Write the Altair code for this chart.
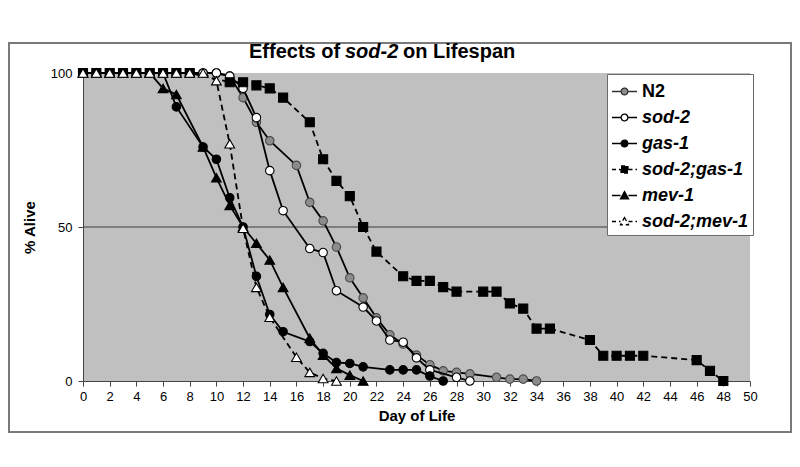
import altair as alt
import pandas as pd

# ---------------- data ----------------
series_names = ["N2", "sod-2", "gas-1", "sod-2;gas-1", "mev-1", "sod-2;mev-1"]

n2_days = [0, 1, 2, 3, 4, 5, 6, 7, 8, 9, 10, 11, 12, 13, 14, 16, 17, 18, 19, 20,
           21, 22, 23, 24, 25, 26, 27, 28, 29, 31, 32, 33, 34]
n2_alive = [100, 100, 100, 100, 100, 100, 100, 100, 100, 100, 100, 99, 92, 84, 78,
            70, 58, 52, 43.5, 33.5, 27, 20.5, 15, 12, 8.4, 5.3, 3.3, 2.8, 2.3,
            1.2, 0.6, 0.6, 0]

sod2_days = [0, 1, 2, 3, 4, 5, 6, 7, 8, 9, 10, 11, 12, 13, 14, 15, 17, 18, 19, 21,
             22, 23, 24, 25, 26, 28, 29]
sod2_alive = [100, 100, 100, 100, 100, 100, 100, 100, 100, 100, 100, 99, 95, 85.5,
              68.3, 55.3, 43, 41.7, 29.3, 24, 19.5, 13.3, 12.6, 7.5, 3.6, 1.2, 0]

gas1_days = [0, 1, 2, 3, 4, 5, 6, 7, 9, 10, 11, 12, 13, 14, 15, 17, 18, 19, 20, 21,
             23, 24, 25, 26, 27]
gas1_alive = [100, 100, 100, 100, 100, 100, 100, 89, 76, 72, 59.5, 50, 34, 21.6, 16,
              12.8, 9, 6, 5.7, 4.6, 3.6, 3.6, 3.6, 1.6, 0]

sod2gas1_days = [0, 1, 2, 3, 4, 5, 6, 7, 8, 11, 12, 13, 14, 15, 17, 18, 19, 20, 21,
                 22, 24, 25, 26, 27, 28, 30, 31, 32, 33, 34, 35, 38, 39, 40, 41, 42,
                 46, 47, 48]
sod2gas1_alive = [100, 100, 100, 100, 100, 100, 100, 100, 100, 97, 97, 96, 95, 92,
                  84, 72, 65, 60, 50, 42, 34, 32.5, 32.5, 30.5, 29, 29, 29, 25.2,
                  23.5, 17, 17, 13.3, 8.2, 8.2, 8.2, 8.2, 6.8, 3.3, 0]

mev1_days = [0, 1, 2, 3, 4, 5, 6, 7, 9, 10, 11, 12, 13, 14, 15, 17, 18, 19, 20, 21]
mev1_alive = [100, 100, 100, 100, 100, 100, 95, 93, 76, 66, 57, 50, 44.7, 39.3,
              30.4, 13.9, 8.4, 4.1, 1.9, 0]

sod2mev1_days = [0, 1, 2, 3, 4, 5, 6, 7, 8, 9, 10, 11, 12, 13, 14, 16, 17, 18, 19]
sod2mev1_alive = [100, 100, 100, 100, 100, 100, 100, 100, 100, 100, 97.5, 77, 49.6,
                  30.4, 20.7, 7.7, 2.8, 0.8, 0]

x_tick_values = [0, 2, 4, 6, 8, 10, 12, 14, 16, 18, 20, 22, 24, 26, 28, 30, 32, 34,
                 36, 38, 40, 42, 44, 46, 48, 50]
y_tick_values = [0, 50, 100]
reference_level = [50]
title_parts = ["Effects of", "sod-2", "on Lifespan"]

# ---------------- tables ----------------
all_days = [n2_days, sod2_days, gas1_days, sod2gas1_days, mev1_days, sod2mev1_days]
all_alive = [n2_alive, sod2_alive, gas1_alive, sod2gas1_alive, mev1_alive, sod2mev1_alive]
df = pd.concat(
    [pd.DataFrame({"series": n, "day": d, "alive": a})
     for n, d, a in zip(series_names, all_days, all_alive)],
    ignore_index=True,
)

# ---------------- styles ----------------
FONT = "Liberation Sans"
marker_shape = {"N2": "circle", "sod-2": "circle", "gas-1": "circle",
                "sod-2;gas-1": "square", "mev-1": "triangle-up",
                "sod-2;mev-1": "triangle-up"}
marker_fill = {"N2": "#8c8c8c", "sod-2": "white", "gas-1": "black",
               "sod-2;gas-1": "black", "mev-1": "black", "sod-2;mev-1": "white"}
marker_stroke = {"N2": "#4a4a4a", "sod-2": "black", "gas-1": "black",
                 "sod-2;gas-1": "black", "mev-1": "black", "sod-2;mev-1": "black"}
marker_size = {"circle": 72, "square": 82, "triangle-up": 95}
dashed = {"sod-2;gas-1", "sod-2;mev-1"}

circle_p = "M-0.27,0A0.27,0.27 0 1,1 0.27,0A0.27,0.27 0 1,1 -0.27,0Z"
square_p = "M-0.28,-0.28H0.28V0.28H-0.28Z"
tri_p = "M0,-0.32L0.32,0.26L-0.32,0.26Z"
line_p = "M-1,0H-0.32M0.32,0H1"
legend_paths = [line_p + circle_p, line_p + circle_p, line_p + circle_p,
                line_p + square_p, line_p + tri_p, line_p + tri_p]
legend_fills = [marker_fill[n] for n in series_names]
legend_strokes = ["#333333", "black", "black", "black", "black", "black"]
legend_dashes = [[1, 0], [1, 0], [1, 0], [4, 3], [1, 0], [4, 3]]

x_enc = alt.X("day:Q", scale=alt.Scale(domain=[0, 50], nice=False),
              axis=alt.Axis(values=x_tick_values, title="Day of Life", grid=False,
                            labelFlush=False, labelOverlap=False))
y_enc = alt.Y("alive:Q", scale=alt.Scale(domain=[0, 100], nice=False),
              axis=alt.Axis(values=y_tick_values, title="% Alive", grid=False))

layers = []

# outer frame of the whole figure (decorative)
frame = alt.Chart(pd.DataFrame({"k": [0]})).mark_rect(
    fillOpacity=0, stroke="#7a7a7a", strokeWidth=2
).encode(x=alt.value(-74), x2=alt.value(708), y=alt.value(-30), y2=alt.value(359))
layers.append(frame)

# reference line at 50 %
ref = alt.Chart(pd.DataFrame({"alive": reference_level})).mark_rule(
    color="#3c3c3c", strokeWidth=1
).encode(y=y_enc)
layers.append(ref)

for n in series_names:
    sub = alt.Chart(df).transform_filter(alt.datum.series == n)
    line_kwargs = dict(color="black", strokeWidth=1.8)
    if n in dashed:
        line_kwargs["strokeDash"] = [6, 4]
    layers.append(sub.mark_line(**line_kwargs).encode(x=x_enc, y=y_enc))
    shp = marker_shape[n]
    layers.append(sub.mark_point(
        shape=shp, filled=True, fill=marker_fill[n], stroke=marker_stroke[n],
        strokeWidth=1.1, size=marker_size[shp], opacity=1
    ).encode(x=x_enc, y=y_enc))

# legend driver (no visible marks)
leg = alt.Legend(
    title=None, orient="none", legendX=524, legendY=1, fillColor="white",
    strokeColor="#6a6a6a", padding=4, symbolSize=625, symbolStrokeWidth=1.3,
    symbolStrokeColor="black", symbolOpacity=1, labelFont=FONT, labelFontSize=18,
    labelFontWeight="bold",
    labelFontStyle={"expr": "datum.label == 'N2' ? 'normal' : 'italic'"},
    labelColor="black", labelOffset=4, rowPadding=3, labelLimit=300,
)
legend_layer = alt.Chart(df).transform_filter("false").mark_point(
    filled=True, strokeWidth=1.3
).encode(
    x=x_enc, y=y_enc,
    shape=alt.Shape("series:N", scale=alt.Scale(domain=series_names, range=legend_paths),
                    legend=leg),
    fill=alt.Fill("series:N", scale=alt.Scale(domain=series_names, range=legend_fills),
                  legend=leg),
    stroke=alt.Stroke("series:N", scale=alt.Scale(domain=series_names, range=legend_strokes),
                      legend=leg),
    strokeDash=alt.StrokeDash("series:N",
                              scale=alt.Scale(domain=series_names, range=legend_dashes),
                              legend=leg),
)
layers.append(legend_layer)

# title made of three text pieces (middle one italic)
title_x = [166, 262, 320]
title_style = ["normal", "italic", "normal"]
for txt, tx, st in zip(title_parts, title_x, title_style):
    layers.append(
        alt.Chart(pd.DataFrame({"t": [txt]})).mark_text(
            align="left", baseline="middle", font=FONT, fontSize=20,
            fontWeight="bold", fontStyle=st, color="black"
        ).encode(x=alt.value(tx), y=alt.value(-21), text="t:N")
    )

chart = alt.layer(*layers).properties(
    width=667, height=308,
    autosize=alt.AutoSizeParams(type="none"),
    padding={"left": 75, "top": 65, "right": 42, "bottom": 78},
    background="white",
).configure_view(
    fill="#c0c0c0", strokeWidth=0
).configure_axis(
    labelFont=FONT, labelFontSize=13, labelColor="black",
    titleFont=FONT, titleFontSize=15, titleFontWeight="bold", titleColor="black",
    domainColor="#444444", tickColor="#444444", tickSize=5,
).configure_axisX(
    labelPadding=4, titlePadding=5,
).configure_axisY(
    labelPadding=6, titlePadding=13,
)

chart.save("out.html", embed_options={"renderer": "svg", "actions": False})
